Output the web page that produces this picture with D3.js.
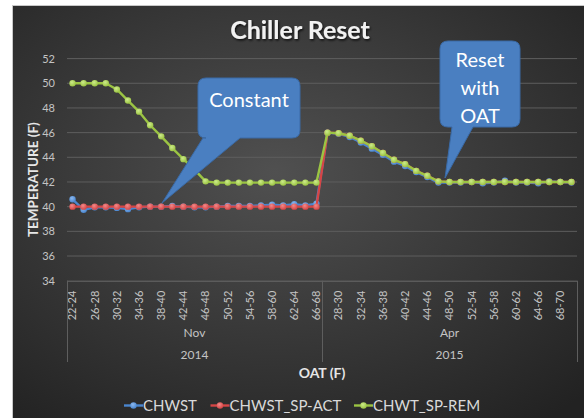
<!DOCTYPE html>
<html>
<head>
<meta charset="utf-8">
<script src="https://cdn.jsdelivr.net/npm/d3@7"></script>
<style>
  html, body { margin: 0; padding: 0; background: #fff; }
  svg { display: block; font-family: Lato, "Open Sans", sans-serif; }
</style>
</head>
<body>
<div id="chart"></div>
<script>
// categories (OAT bins), grouped by month / year
const novBins = ["22-24","24-26","26-28","28-30","30-32","32-34","34-36","36-38","38-40","40-42","42-44","44-46",
  "46-48","48-50","50-52","52-54","54-56","56-58","58-60","60-62","62-64","64-66","66-68"]
const aprBins = ["26-28","28-30","30-32","32-34","34-36","36-38","38-40","40-42","42-44","44-46","46-48","48-50",
  "50-52","52-54","54-56","56-58","58-60","60-62","62-64","64-66","66-68","68-70","70-72"]
const groups = [
  { month: "Nov", year: "2014", bins: novBins },
  { month: "Apr", year: "2015", bins: aprBins }
]

// series values (Nov then Apr)
const chwst = [40.6, 39.75, 39.95, 39.95, 39.9, 39.8, 39.95, 40.0, 40.0, 40.05, 40.0, 39.95, 39.95, 40.0, 40.05, 40.05,
  40.05, 40.1, 40.15, 40.1, 40.2, 40.1, 40.25,
  46.0, 45.9, 45.65, 45.2, 44.7, 44.2, 43.65, 43.3, 42.8, 42.4, 41.95, 41.95, 41.95, 42.0, 41.9, 41.95,
  42.1, 41.95, 41.95, 41.9, 42.05, 42.0, 41.95]
const chwstSpAct = [40, 40, 40, 40, 40, 40, 40, 40, 40, 40, 40, 40, 40, 40, 40, 40, 40, 40, 40, 40, 40, 40, 40,
  46.0, 45.95, 45.75, 45.35, 44.9, 44.35, 43.8, 43.45, 42.9, 42.5, 42.05, 42, 42, 42, 42, 42, 42, 42, 42, 42, 42, 42, 42]
const chwtSpRem = [50, 50, 50, 50, 49.5, 48.6, 47.7, 46.6, 45.7, 44.75, 43.85, 43.0, 42.05, 41.95, 41.95, 41.95,
  41.95, 41.95, 41.95, 41.95, 41.95, 41.95, 41.95,
  46.0, 45.95, 45.75, 45.35, 44.9, 44.35, 43.8, 43.45, 42.9, 42.5, 42.05, 42, 42, 42, 42, 42, 42, 42, 42, 42, 42, 42, 42]

const yTicks = [34, 36, 38, 40, 42, 44, 46, 48, 50, 52]

const series = [
  { name: "CHWST", values: chwst, color: "#4a86cf", light: "#8cb8ee" },
  { name: "CHWST_SP-ACT", values: chwstSpAct, color: "#d64545", light: "#f08a8a" },
  { name: "CHWT_SP-REM", values: chwtSpRem, color: "#9bc443", light: "#cdeb8a" }
]

const W = 584, H = 418
const plot = { left: 67, right: 577, top: 58.6, bottom: 280.7 }

const keys = []
groups.forEach(g => g.bins.forEach(b => keys.push(g.month + "|" + b)))

const svg = d3.select("#chart").append("svg")
  .attr("width", W).attr("height", H)

const defs = svg.append("defs")
const bg = defs.append("radialGradient").attr("id", "bg")
  .attr("cx", "45%").attr("cy", "40%").attr("r", "75%")
bg.append("stop").attr("offset", "0%").attr("stop-color", "#505050")
bg.append("stop").attr("offset", "100%").attr("stop-color", "#222222")

const shadow = defs.append("filter").attr("id", "shadow")
  .attr("x", "-20%").attr("y", "-20%").attr("width", "140%").attr("height", "140%")
shadow.append("feDropShadow").attr("dx", 1).attr("dy", 1.5).attr("stdDeviation", 1.2)
  .attr("flood-color", "#000").attr("flood-opacity", 0.8)

series.forEach((s, i) => {
  const g = defs.append("radialGradient").attr("id", "mk" + i)
    .attr("cx", "40%").attr("cy", "35%").attr("r", "65%")
  g.append("stop").attr("offset", "0%").attr("stop-color", s.light)
  g.append("stop").attr("offset", "100%").attr("stop-color", s.color)
})

// chart area
svg.append("rect").attr("x", 12.5).attr("y", 5.5).attr("width", W).attr("height", H)
  .attr("fill", "url(#bg)").attr("stroke", "#c8c8c8").attr("stroke-width", 1)

// title
svg.append("text")
  .attr("x", 300).attr("y", 39)
  .attr("text-anchor", "middle")
  .attr("fill", "#f2f2f2")
  .attr("font-size", 25).attr("font-weight", "bold")
  .attr("filter", "url(#shadow)")
  .text("Chiller Reset")

/* scales */
const x = d3.scaleBand().domain(keys).range([plot.left, plot.right])
const y = d3.scaleLinear().domain([34, 52]).range([plot.bottom, plot.top])
const cx = i => x(keys[i]) + x.bandwidth() / 2

// gridlines
svg.append("g").selectAll("line")
  .data(yTicks.slice(1))
  .join("line")
  .attr("x1", plot.left).attr("x2", plot.right)
  .attr("y1", d => y(d)).attr("y2", d => y(d))
  .attr("stroke", "#5e5e5e").attr("stroke-width", 1)

/* Y axis */
const yAxis = d3.axisLeft(y).tickValues(yTicks).tickSize(0).tickPadding(12)
svg.append("g")
  .attr("transform", `translate(${plot.left}, 0)`)
  .call(yAxis)
  .call(g => g.select(".domain").remove())
  .selectAll("text")
  .attr("fill", "#c4c4c4").attr("font-size", 11)
  .attr("font-family", "Lato, 'Open Sans', sans-serif")

svg.append("text")
  .attr("transform", "rotate(-90)")
  .attr("x", -(plot.top + plot.bottom) / 2 - 10).attr("y", 38)
  .attr("text-anchor", "middle")
  .attr("fill", "#e6e6e6").attr("font-size", 13.5).attr("font-weight", "bold")
  .text("TEMPERATURE (F)")

/* X axis */
const axisG = svg.append("g")
axisG.append("line")
  .attr("x1", plot.left).attr("x2", plot.right)
  .attr("y1", plot.bottom + 0.5).attr("y2", plot.bottom + 0.5)
  .attr("stroke", "#6a6a6a")

const xAxis = d3.axisBottom(x).tickSize(0).tickPadding(0)
  .tickFormat((d, i) => i % 2 === 0 ? d.split("|")[1] : "")
axisG.append("g")
  .attr("transform", `translate(0, ${plot.bottom})`)
  .call(xAxis)
  .call(g => g.select(".domain").remove())
  .selectAll("text")
  .attr("transform", "rotate(-90)")
  .attr("x", -10).attr("y", 0).attr("dy", "0.35em")
  .style("text-anchor", "end")
  .attr("fill", "#c4c4c4").attr("font-size", 11)
  .attr("font-family", "Lato, 'Open Sans', sans-serif")

// group separators and labels
let start = 0
const bounds = [plot.left]
groups.forEach(g => {
  const first = x(keys[start])
  const last = x(keys[start + g.bins.length - 1]) + x.bandwidth()
  bounds.push(last)
  const mid = (first + last) / 2
  axisG.append("text").attr("x", mid).attr("y", 337)
    .attr("text-anchor", "middle").attr("fill", "#c4c4c4").attr("font-size", 12).text(g.month)
  axisG.append("text").attr("x", mid).attr("y", 359)
    .attr("text-anchor", "middle").attr("fill", "#c4c4c4").attr("font-size", 12).text(g.year)
  start += g.bins.length
})
axisG.selectAll("line.sep").data(bounds).join("line").attr("class", "sep")
  .attr("x1", d => Math.round(d) + 0.5).attr("x2", d => Math.round(d) + 0.5)
  .attr("y1", plot.bottom).attr("y2", 362)
  .attr("stroke", "#5e5e5e")

svg.append("text")
  .attr("x", (plot.left + plot.right) / 2).attr("y", 378)
  .attr("text-anchor", "middle")
  .attr("fill", "#e6e6e6").attr("font-size", 14).attr("font-weight", "bold")
  .text("OAT (F)")

/* series */
const line = d3.line().x((d, i) => cx(i)).y(d => y(d))
series.forEach((s, si) => {
  const g = svg.append("g")
  g.append("path").datum(s.values)
    .attr("d", line).attr("fill", "none")
    .attr("stroke", s.color).attr("stroke-width", 2.4)
    .attr("stroke-linejoin", "round")
  g.selectAll("circle").data(s.values).join("circle")
    .attr("cx", (d, i) => cx(i)).attr("cy", d => y(d)).attr("r", 3.2)
    .attr("fill", `url(#mk${si})`)
})

/* callouts */
function callout(box, tip, base, lines) {
  const g = svg.append("g")
  const path = d3.path()
  const r = 8
  path.moveTo(box.x + r, box.y)
  path.lineTo(box.x + box.w - r, box.y)
  path.quadraticCurveTo(box.x + box.w, box.y, box.x + box.w, box.y + r)
  path.lineTo(box.x + box.w, box.y + box.h - r)
  path.quadraticCurveTo(box.x + box.w, box.y + box.h, box.x + box.w - r, box.y + box.h)
  path.lineTo(base[1], box.y + box.h)
  path.lineTo(tip[0], tip[1])
  path.lineTo(base[0], box.y + box.h)
  path.lineTo(box.x + r, box.y + box.h)
  path.quadraticCurveTo(box.x, box.y + box.h, box.x, box.y + box.h - r)
  path.lineTo(box.x, box.y + r)
  path.quadraticCurveTo(box.x, box.y, box.x + r, box.y)
  path.closePath()
  g.append("path").attr("d", path.toString())
    .attr("fill", "#4a7fc1").attr("stroke", "#3a6aa6").attr("stroke-width", 1)
  lines.forEach(l => {
    g.append("text").attr("x", box.x + box.w / 2).attr("y", l.y)
      .attr("text-anchor", "middle").attr("fill", "#fff").attr("font-size", 20)
      .text(l.t)
  })
}

callout({ x: 198, y: 78, w: 102, h: 60 }, [162, 203], [203, 240],
  [{ t: "Constant", y: 107 }])
callout({ x: 440, y: 41, w: 80, h: 86 }, [445, 178], [452, 473],
  [{ t: "Reset", y: 67 }, { t: "with", y: 95 }, { t: "OAT", y: 123 }])

/* legend */
const legend = svg.append("g")
const legendX = [124, 210.5, 354]
series.forEach((s, i) => {
  const lg = legend.append("g").attr("transform", `translate(${legendX[i]}, 405.5)`)
  lg.append("line").attr("x1", 0).attr("x2", 19).attr("stroke", s.color).attr("stroke-width", 2.4)
  lg.append("circle").attr("cx", 9.5).attr("r", 3.2).attr("fill", `url(#mk${i})`)
  lg.append("text").attr("x", 19).attr("dy", "0.35em")
    .attr("fill", "#d9d9d9").attr("font-size", 15).text(s.name)
})
</script>
</body>
</html>
